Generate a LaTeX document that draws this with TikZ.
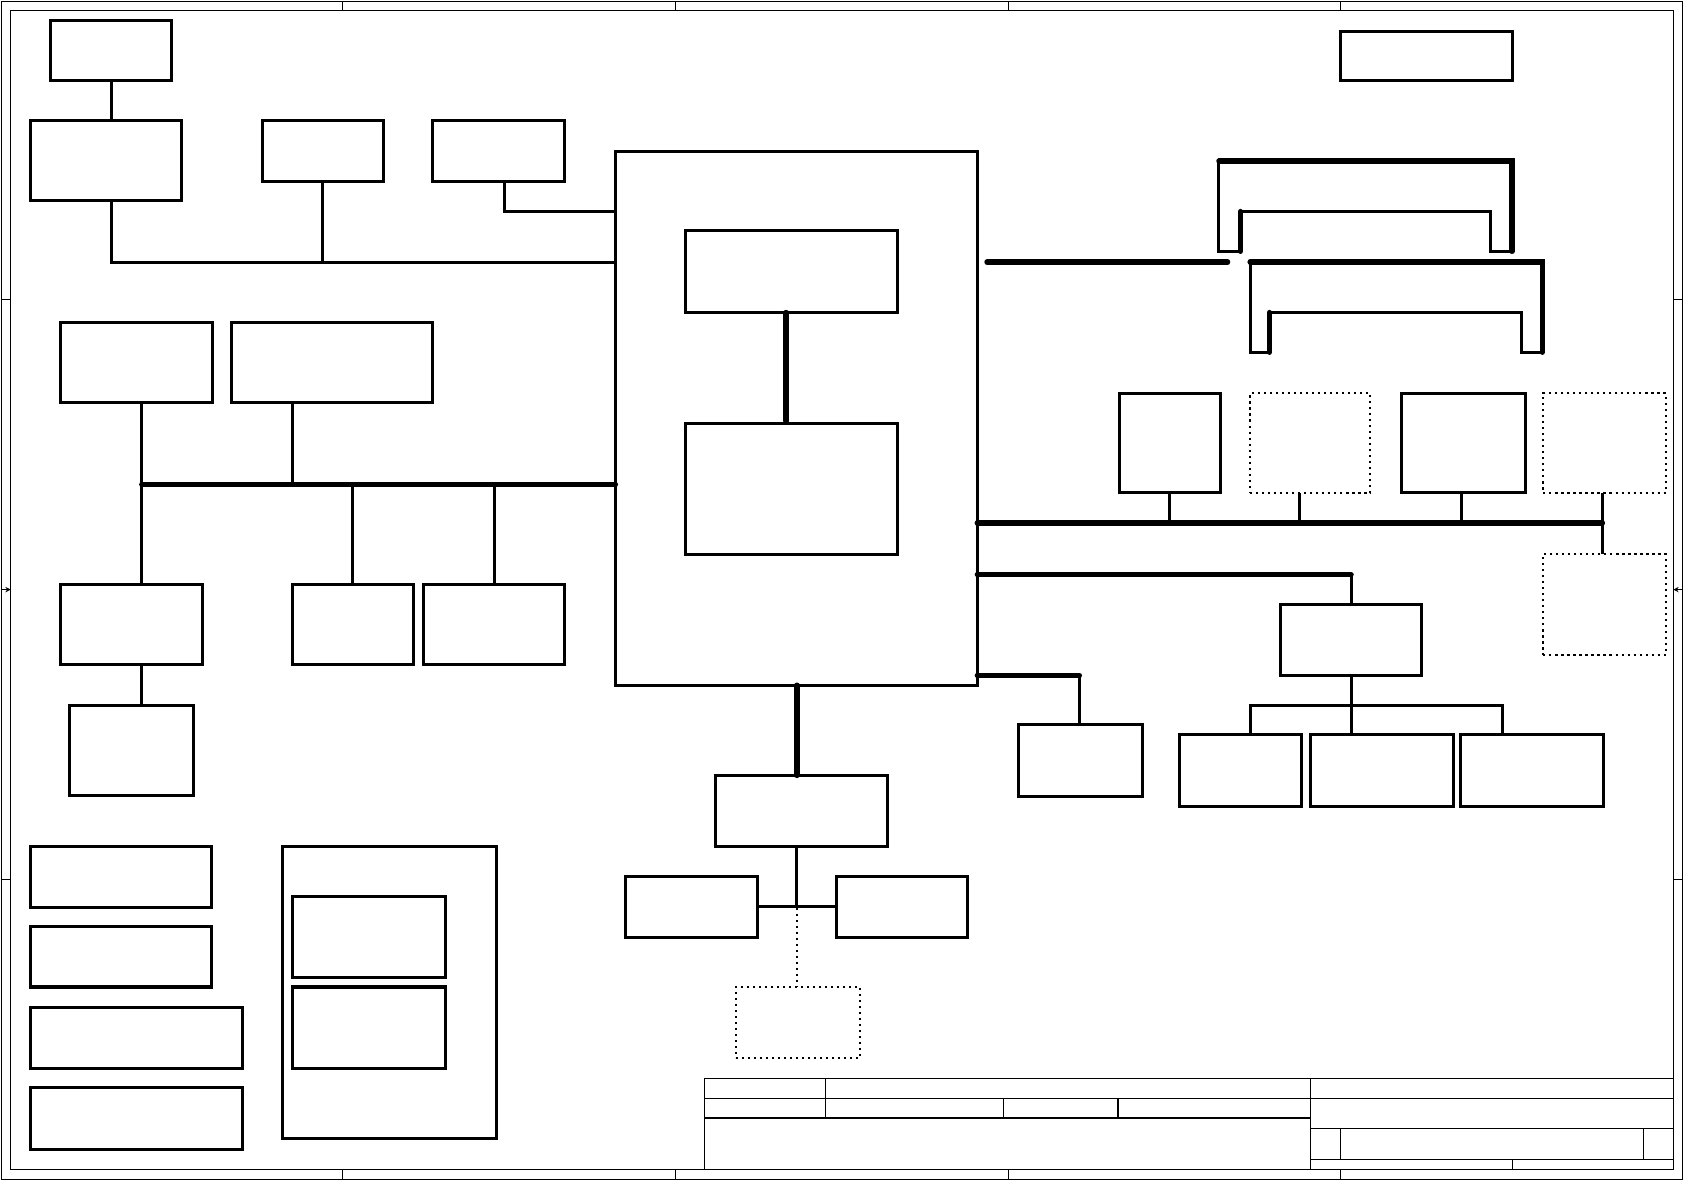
\documentclass[tikz,border=0pt]{standalone}
\usepackage{tikz}
\usetikzlibrary{arrows.meta}

\begin{document}
\begin{tikzpicture}[
    x=1pt, y=-1pt,
    blk/.style={draw, line width=2.8pt, inner sep=0pt, outer sep=0pt, anchor=north west},
    dblk/.style={blk, line width=2pt, dash pattern=on 2pt off 3.6pt},
    wire/.style={line width=2.8pt},
    dwire/.style={line width=2pt, dash pattern=on 2pt off 3.6pt},
    bus/.style={line width=5pt, line cap=round},
    frm/.style={line width=1pt}
]
    \useasboundingbox (0,0) rectangle (1568,1099);

    % Sheet frame
    \draw[frm] (1,1) rectangle (1567,1098);
    \draw[frm] (10,10) rectangle (1558,1089);
    \foreach \zx in {319,629,939,1248} {
        \draw[frm] (\zx,1) -- (\zx,10);
        \draw[frm] (\zx,1089) -- (\zx,1098);
    }
    \foreach \zy in {279,819} {
        \draw[frm] (1,\zy) -- (10,\zy);
        \draw[frm] (1558,\zy) -- (1567,\zy);
    }
    \draw[frm, -{Stealth[length=5pt,width=5pt]}] (1,549) -- (10,549);
    \draw[frm, -{Stealth[length=5pt,width=5pt]}] (1567,549) -- (1558,549);

    % Title block
    \draw[frm] (656,1089) -- (656,1004) -- (1558,1004);
    \draw[frm] (656,1023) -- (1558,1023);
    \draw[frm] (656,1041) -- (1220,1041);
    \draw[frm] (769,1004) -- (769,1041);
    \draw[frm] (934,1023) -- (934,1041);
    \draw[frm] (1041,1023) -- (1041,1041);
    \draw[frm] (1220,1004) -- (1220,1089);
    \draw[frm] (1220,1051) -- (1558,1051);
    \draw[frm] (1220,1080) -- (1558,1080);
    \draw[frm] (1248,1051) -- (1248,1080);
    \draw[frm] (1530,1051) -- (1530,1080);
    \draw[frm] (1408,1080) -- (1408,1089);

    % Place nodes
    \node[blk, minimum width=113pt, minimum height=56pt] (pwr) at (47,19) {};
    \node[blk, minimum width=141pt, minimum height=75pt] (clk) at (28,112) {};
    \node[blk, minimum width=113pt, minimum height=57pt] (tpm) at (244,112) {};
    \node[blk, minimum width=123pt, minimum height=57pt] (ec) at (403,112) {};
    \node[blk, minimum width=337pt, minimum height=497pt] (cpu) at (573,141) {};
    \node[blk, minimum width=198pt, minimum height=76pt] (core) at (638,215) {};
    \node[blk, minimum width=198pt, minimum height=122pt] (gfx) at (638,394) {};
    \node[blk, minimum width=142pt, minimum height=75pt] (lvds) at (56,300) {};
    \node[blk, minimum width=187pt, minimum height=75pt] (hdmi) at (216,300) {};
    \node[blk, minimum width=133pt, minimum height=75pt] (crt) at (56,544) {};
    \node[blk, minimum width=113pt, minimum height=75pt] (dp) at (272,544) {};
    \node[blk, minimum width=132pt, minimum height=75pt] (cam) at (394,544) {};
    \node[blk, minimum width=115pt, minimum height=84pt] (vga) at (65,657) {};
    \node[blk, minimum width=160pt, minimum height=46pt] (rev) at (1248,29) {};

    \node[blk, minimum width=94pt, minimum height=93pt] (lan) at (1042,366) {};
    \node[dblk, minimum width=112pt, minimum height=93pt] (wlan) at (1164,366) {};
    \node[blk, minimum width=115pt, minimum height=93pt] (card) at (1305,366) {};
    \node[dblk, minimum width=114pt, minimum height=93pt] (wwan) at (1437,366) {};
    \node[dblk, minimum width=114pt, minimum height=94pt] (sim) at (1437,516) {};
    \node[blk, minimum width=132pt, minimum height=66pt] (hub) at (1192,563) {};
    \node[blk, minimum width=114pt, minimum height=67pt] (usba) at (1098,684) {};
    \node[blk, minimum width=133pt, minimum height=67pt] (usbb) at (1220,684) {};
    \node[blk, minimum width=133pt, minimum height=67pt] (usbc) at (1360,684) {};
    \node[blk, minimum width=116pt, minimum height=67pt] (sata) at (948,675) {};

    \node[blk, minimum width=160pt, minimum height=66pt] (codec) at (666,722) {};
    \node[blk, minimum width=123pt, minimum height=57pt] (spk) at (582,816) {};
    \node[blk, minimum width=122pt, minimum height=57pt] (mic) at (779,816) {};
    \node[dblk, minimum width=116pt, minimum height=66pt] (jack) at (685,919) {};

    \node[blk, minimum width=169pt, minimum height=57pt] (pwa) at (28,788) {};
    \node[blk, minimum width=169pt, minimum height=56pt] (pwb) at (28,863) {};
    \node[blk, minimum width=198pt, minimum height=57pt] (pwc) at (28,938) {};
    \node[blk, minimum width=198pt, minimum height=57pt] (pwd) at (28,1013) {};
    \node[blk, minimum width=199pt, minimum height=272pt] (misc) at (263,788) {};
    \node[blk, minimum width=143pt, minimum height=75pt] (fan) at (272,835) {};
    \node[blk, minimum width=143pt, minimum height=76pt] (led) at (272,919) {};

    % Junctions
    \coordinate (jlpc) at (104,244);
    \coordinate (jec) at (470,197);
    \coordinate (busL) at (132,451);
    \coordinate (tapH) at (272,451);
    \coordinate (memL) at (919,244);
    \coordinate (memR) at (1143,244);
    \coordinate (busE) at (1492,487);
    \coordinate (tapW) at (1210,487);
    \coordinate (busF) at (1258,535);
    \coordinate (busG) at (1005,629);
    \coordinate (hubL) at (1164,657);
    \coordinate (hubR) at (1399,657);
    \coordinate (aud) at (742,845);

    % Add connections
    \draw[wire] (pwr.south -| jlpc) -- (clk.north -| jlpc);
    \draw[wire] (clk.south -| jlpc) -- (jlpc) -- (cpu.west |- jlpc);
    \draw[wire] (tpm.south) -- (tpm.south |- jlpc);
    \draw[wire] (ec.south -| jec) -- (jec) -- (cpu.west |- jec);
    \draw[bus] ([xshift=-5pt]core.south) -- ([xshift=-5pt,yshift=2pt]gfx.north);

    \draw[bus] (busL) -- (cpu.west |- busL);
    \draw[wire] (lvds.south -| busL) -- (busL) -- (crt.north -| busL);
    \draw[wire] (hdmi.south -| tapH) -- (tapH);
    \draw[wire] (dp.north) -- (dp.north |- busL);
    \draw[wire] (cam.north) -- (cam.north |- busL);
    \draw[wire] (crt.south -| busL) -- (vga.north -| busL);

    % Memory slots
    \draw[bus] (memL) -- (memR);
    \draw[bus] (1135,150) -- (1408,150) -- (1408,234);
    \draw[wire] (1135,150) -- (1135,234) -- (1155,234);
    \draw[bus] (1155,234) -- (1155,197);
    \draw[wire] (1155,197) -- (1388,197) -- (1388,234) -- (1408,234);
    \draw[bus] (1164,244) -- (1436,244) -- (1436,328);
    \draw[wire] (1164,244) -- (1164,328) -- (1182,328);
    \draw[bus] (1182,328) -- (1182,291);
    \draw[wire] (1182,291) -- (1417,291) -- (1417,328) -- (1436,328);

    % Right side buses
    \draw[bus] (cpu.east |- busE) -- (busE);
    \draw[wire] (lan.south) -- (lan.south |- busE);
    \draw[wire] (wlan.south -| tapW) -- (tapW);
    \draw[wire] ([xshift=-2pt]card.south) -- ([xshift=-2pt]card.south |- busE);
    \draw[wire] (wwan.south -| busE) -- (busE) -- (sim.north -| busE);
    \draw[bus] (cpu.east |- busF) -- (busF);
    \draw[wire] (busF) -- (hub.north -| busF);
    \draw[wire] (hub.south -| busF) -- (usbb.north -| busF);
    \draw[wire] (usba.north -| hubL) -- (hubL) -- (hubR) -- (usbc.north -| hubR);
    \draw[bus] (cpu.east |- busG) -- (busG);
    \draw[wire] (busG) -- (sata.north -| busG);

    % Audio
    \draw[bus] (cpu.south -| aud) -- (codec.north -| aud);
    \draw[wire] (codec.south -| aud) -- (aud);
    \draw[wire] (spk.east) -- (mic.west);
    \draw[dwire] (aud) -- (jack.north -| aud);
\end{tikzpicture}
\end{document}
